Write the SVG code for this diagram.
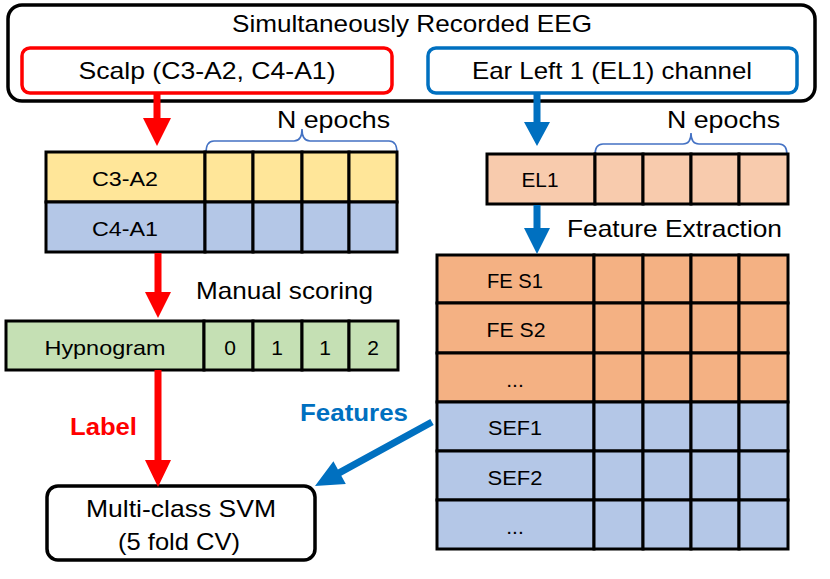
<svg xmlns="http://www.w3.org/2000/svg" width="830" height="579" viewBox="0 0 830 579">
<style>
text{font-family:"Liberation Sans",Arial,sans-serif;font-size:24px;fill:#000}
.c{text-anchor:middle}
.t{font-size:21px}
.cell{stroke:#000;stroke-width:3}
.y{fill:#ffe699}.b{fill:#b4c7e7}.s{fill:#f8cbad}.o{fill:#f4b183}.g{fill:#c5e0b4}
.brace{fill:none;stroke:#4472c4;stroke-width:1.6}
.red{fill:#ff0000}.blue{fill:#0070c0}
</style>
<rect width="830" height="579" fill="#fff"/>
<g id="eeg">
<rect x="8" y="5" width="807" height="96" rx="14" fill="#fff" stroke="#000" stroke-width="3.5"/>
<text class="c" x="412" y="32" textLength="360" lengthAdjust="spacingAndGlyphs">Simultaneously Recorded EEG</text>
</g>
<g id="scalp">
<rect x="22" y="48" width="370" height="45" rx="8" fill="#fff" stroke="#ff0000" stroke-width="3.5"/>
<text class="c" x="207" y="79" textLength="257" lengthAdjust="spacingAndGlyphs">Scalp (C3-A2, C4-A1)</text>
</g>
<g id="ear">
<rect x="428" y="48" width="369" height="45" rx="8" fill="#fff" stroke="#0070c0" stroke-width="3.5"/>
<text class="c" x="612" y="79" textLength="280" lengthAdjust="spacingAndGlyphs">Ear Left 1 (EL1) channel</text>
</g>
<g id="scalp-epochs">
<path class="brace" d="M206,153 Q206,141 214,141 L294,141 Q302,141 302,129 Q302,141 310,141 L389,141 Q397,141 397,153"/>
<text x="277" y="128" textLength="113" lengthAdjust="spacingAndGlyphs">N epochs</text>
<rect class="cell y" x="46" y="152" width="159" height="50"/>
<rect class="cell y" x="205" y="152" width="48" height="50"/>
<rect class="cell y" x="253" y="152" width="49" height="50"/>
<rect class="cell y" x="302" y="152" width="47" height="50"/>
<rect class="cell y" x="349" y="152" width="48" height="50"/>
<rect class="cell b" x="46" y="202" width="159" height="50"/>
<rect class="cell b" x="205" y="202" width="48" height="50"/>
<rect class="cell b" x="253" y="202" width="49" height="50"/>
<rect class="cell b" x="302" y="202" width="47" height="50"/>
<rect class="cell b" x="349" y="202" width="48" height="50"/>
<text class="c t" x="125" y="186" textLength="66" lengthAdjust="spacingAndGlyphs">C3-A2</text>
<text class="c t" x="125" y="236" textLength="66" lengthAdjust="spacingAndGlyphs">C4-A1</text>
</g>
<g id="el1">
<path class="brace" d="M595,155 Q595,144 603,144 L683,144 Q691,144 691,133 Q691,144 699,144 L779,144 Q787,144 787,155"/>
<text x="667" y="128" textLength="113" lengthAdjust="spacingAndGlyphs">N epochs</text>
<rect class="cell s" x="487" y="154" width="108" height="50"/>
<rect class="cell s" x="595" y="154" width="48" height="50"/>
<rect class="cell s" x="643" y="154" width="48" height="50"/>
<rect class="cell s" x="691" y="154" width="48" height="50"/>
<rect class="cell s" x="739" y="154" width="49" height="50"/>
<text class="c t" x="540" y="187" textLength="37" lengthAdjust="spacingAndGlyphs">EL1</text>
</g>
<g id="hypnogram">
<text x="196" y="299" textLength="177" lengthAdjust="spacingAndGlyphs">Manual scoring</text>
<rect class="cell g" x="6" y="321" width="198" height="49"/>
<rect class="cell g" x="204" y="321" width="49" height="49"/>
<rect class="cell g" x="253" y="321" width="49" height="49"/>
<rect class="cell g" x="302" y="321" width="47" height="49"/>
<rect class="cell g" x="349" y="321" width="49" height="49"/>
<text class="c t" x="105" y="355" textLength="121" lengthAdjust="spacingAndGlyphs">Hypnogram</text>
<text class="c t" x="230" y="355">0</text>
<text class="c t" x="277" y="355">1</text>
<text class="c t" x="325" y="355">1</text>
<text class="c t" x="373" y="355">2</text>
</g>
<g id="features">
<text x="567" y="237" textLength="215" lengthAdjust="spacingAndGlyphs">Feature Extraction</text>
<g class="cell o">
<rect x="437" y="255" width="157" height="48"/><rect x="594" y="255" width="49" height="48"/><rect x="643" y="255" width="48" height="48"/><rect x="691" y="255" width="48" height="48"/><rect x="739" y="255" width="49" height="48"/>
<rect x="437" y="303" width="157" height="50"/><rect x="594" y="303" width="49" height="50"/><rect x="643" y="303" width="48" height="50"/><rect x="691" y="303" width="48" height="50"/><rect x="739" y="303" width="49" height="50"/>
<rect x="437" y="353" width="157" height="49"/><rect x="594" y="353" width="49" height="49"/><rect x="643" y="353" width="48" height="49"/><rect x="691" y="353" width="48" height="49"/><rect x="739" y="353" width="49" height="49"/>
</g>
<g class="cell b">
<rect x="437" y="402" width="157" height="49"/><rect x="594" y="402" width="49" height="49"/><rect x="643" y="402" width="48" height="49"/><rect x="691" y="402" width="48" height="49"/><rect x="739" y="402" width="49" height="49"/>
<rect x="437" y="451" width="157" height="49"/><rect x="594" y="451" width="49" height="49"/><rect x="643" y="451" width="48" height="49"/><rect x="691" y="451" width="48" height="49"/><rect x="739" y="451" width="49" height="49"/>
<rect x="437" y="500" width="157" height="49"/><rect x="594" y="500" width="49" height="49"/><rect x="643" y="500" width="48" height="49"/><rect x="691" y="500" width="48" height="49"/><rect x="739" y="500" width="49" height="49"/>
</g>
<text class="c t" x="515" y="288" textLength="56" lengthAdjust="spacingAndGlyphs">FE S1</text>
<text class="c t" x="516" y="337" textLength="59" lengthAdjust="spacingAndGlyphs">FE S2</text>
<text class="c t" x="515" y="387">...</text>
<text class="c t" x="515" y="435" textLength="54" lengthAdjust="spacingAndGlyphs">SEF1</text>
<text class="c t" x="515" y="485" textLength="55" lengthAdjust="spacingAndGlyphs">SEF2</text>
<text class="c t" x="515" y="534">...</text>
</g>
<g id="svm">
<rect x="47" y="486" width="268" height="74" rx="11" fill="#fff" stroke="#000" stroke-width="3.5"/>
<text class="c" x="181" y="517" textLength="190" lengthAdjust="spacingAndGlyphs">Multi-class SVM</text>
<text class="c" x="179" y="550" textLength="122" lengthAdjust="spacingAndGlyphs">(5 fold CV)</text>
</g>
<g id="connectors">
<path class="red" d="M153.5,93 H160.5 V118 H171 L157,146 L143,118 H153.5 Z"/>
<path class="red" d="M154.5,253 H161.5 V292 H171 L158,318 L145,292 H154.5 Z"/>
<path class="red" d="M154.5,370 H161.5 V460 H171 L158,487 L145,460 H154.5 Z"/>
<path class="blue" d="M533.5,93 H540.5 V122 H550 L537,146 L524,122 H533.5 Z"/>
<path class="blue" d="M533.5,205 H540.5 V228 H550 L537,254 L524,228 H533.5 Z"/>
<path class="blue" d="M430.3,418.9 L433.7,425.1 L341.3,475.7 L345.8,484 L315,486 L333.4,461.2 L337.9,469.5 Z"/>
<text x="70" y="435" textLength="67" lengthAdjust="spacingAndGlyphs" style="font-weight:bold;fill:#ff0000">Label</text>
<text x="300" y="421" textLength="108" lengthAdjust="spacingAndGlyphs" style="font-weight:bold;fill:#0070c0">Features</text>
</g>
</svg>
